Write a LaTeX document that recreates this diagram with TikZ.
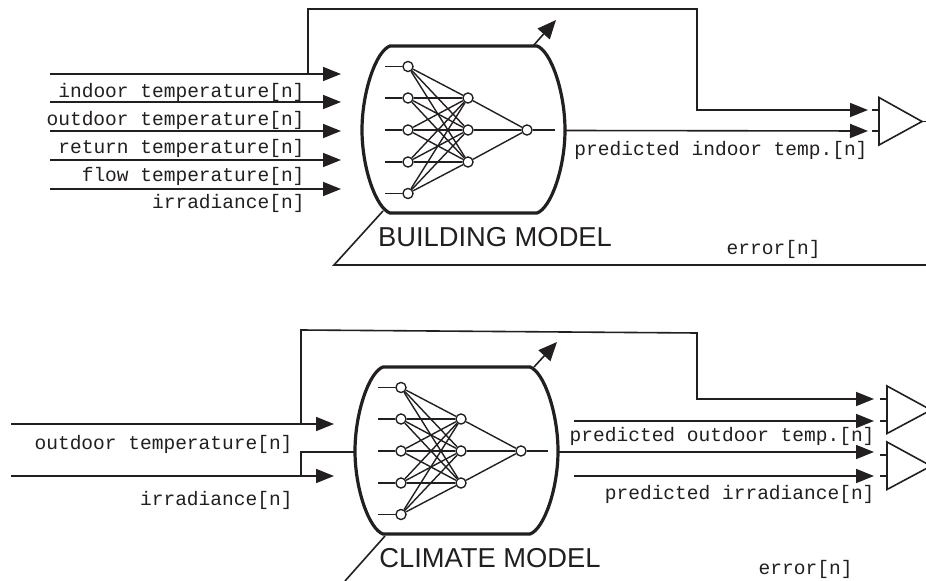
\documentclass[tikz,border=0pt]{standalone}
\usepackage{fontspec}
\setmainfont{Liberation Sans}
\setmonofont{Liberation Mono}
\usetikzlibrary{arrows.meta}
\definecolor{inkdark}{HTML}{231F20}
\tikzset{every picture/.style={line width=0.75pt}}
\tikzset{
  neuron/.style={circle,draw=inkdark,fill=white,line width=1pt,minimum size=7.6pt,inner sep=0pt},
  synapse/.style={draw=inkdark,line width=1.05pt},
  modelbody/.style={draw=inkdark,line width=2.4pt},
  signal/.style={draw=inkdark,line width=1.2pt},
  sigarrow/.style={signal,-{Triangle[length=13.5pt,width=10.5pt]}},
  adjarrow/.style={signal,-{Triangle[length=14pt,width=12pt]}},
  siglabel/.style={text=inkdark,font=\fontsize{14.65}{16}\selectfont\ttfamily,anchor=base east,inner sep=0pt},
  modellabel/.style={text=inkdark,font=\fontsize{20.5}{22}\selectfont,anchor=base,inner sep=0pt}
}

\begin{document}
\begin{tikzpicture}[x=0.75pt,y=0.75pt,yscale=-1,xscale=1]
\clip (0,0) rectangle (926,581);
\path[fill=white] (0,0) rectangle (926,581);
%Shape: Building model body
\coordinate (bmtl) at (390,46);
\coordinate (bmtr) at (537,46);
\coordinate (bmbr) at (537,213);
\coordinate (bmbl) at (390,213);
\draw [modelbody] (bmtl) -- (bmtr) .. controls (551,51) and (565,92) .. (565,130) .. controls (565,168) and (551,208) .. (bmbr) -- (bmbl) .. controls (376,208) and (362,168) .. (362,130) .. controls (362,92) and (376,51) .. (bmtl) -- cycle ;
%Building model network
\node (bi1) [neuron] at (408,66.5) {};
\node (bi2) [neuron] at (408,98) {};
\node (bi3) [neuron] at (408,130) {};
\node (bi4) [neuron] at (408,162) {};
\node (bi5) [neuron] at (408,193.5) {};
\node (bh1) [neuron] at (468,98) {};
\node (bh2) [neuron] at (468,130) {};
\node (bh3) [neuron] at (468,162) {};
\node (bo) [neuron] at (527,130) {};
\coordinate (bout) at (555,130);
\foreach \i/\y in {1/66.5,2/98,3/130,4/162,5/193.5} {
  \coordinate (bs\i) at (385,\y);
  \draw [synapse] (bs\i) -- (bi\i);
  \foreach \j in {1,2,3} \draw [synapse] (bi\i) -- (bh\j);
}
\foreach \j in {1,2,3} \draw [synapse] (bh\j) -- (bo);
\draw [synapse] (bo) -- (bout);
%Building model inputs
\foreach \i/\y in {1/74,2/102,3/131,4/160,5/189} {
  \coordinate (bl\i) at (50,\y);
  \coordinate (bt\i) at (341,\y);
  \draw [sigarrow] (bl\i) -- (bt\i);
}
%Building model comparator
\coordinate (bcmpt) at (879,97.5);
\coordinate (bcmpb) at (879,145);
\coordinate (bcmpa) at (922,121.5);
\draw [signal] (bcmpt) -- (bcmpa) -- (bcmpb) -- cycle ;
\coordinate (bfb) at (308,74);
\coordinate (btk1) at (868,110);
\coordinate (btk2) at (868,131);
\coordinate (bst1) at (872,110);
\coordinate (bst2) at (872,131);
\coordinate (bbody) at (565,130.5);
\draw [sigarrow] (bfb) -- (308,9) -- (697,9) -- (697,110) -- (btk1);
\draw [sigarrow] (bbody) -- (btk2);
\draw [signal] (bst1) -- (bcmpt |- bst1);
\draw [signal] (bst2) -- (bcmpt |- bst2);
\draw [signal] (bcmpa) -- (926,121.5);
%Building model adjust and error
\coordinate (bat) at (556,20);
\coordinate (bas) at (533,46);
\draw [adjarrow] (bas) -- (bat);
\coordinate (bes) at (383,211);
\coordinate (bee) at (926,265);
\draw [signal] (bes) -- (334,265) -- (bee);
%Building model text
\node (lbi1) [siglabel] at (305,98) {indoor temperature[n]};
\node (lbi2) [siglabel] at (305,126) {outdoor temperature[n]};
\node (lbi3) [siglabel] at (305,154) {return temperature[n]};
\node (lbi4) [siglabel] at (305,182) {flow temperature[n]};
\node (lbi5) [siglabel] at (305,209) {irradiance[n]};
\node (lbp) [siglabel] at (868,156) {predicted indoor temp.[n]};
\node (lbe) [siglabel] at (821,255) {error[n]};
\node (lbm) [modellabel] at (495,247) {BUILDING MODEL};
%Shape: Climate model body
\coordinate (cmtl) at (383,367);
\coordinate (cmtr) at (530,367);
\coordinate (cmbr) at (530,534);
\coordinate (cmbl) at (383,534);
\draw [modelbody] (cmtl) -- (cmtr) .. controls (544,372) and (558,413) .. (558,451) .. controls (558,489) and (544,529) .. (cmbr) -- (cmbl) .. controls (369,529) and (355,489) .. (355,451) .. controls (355,413) and (369,372) .. (cmtl) -- cycle ;
%Climate model network
\node (ci1) [neuron] at (401,387.5) {};
\node (ci2) [neuron] at (401,419) {};
\node (ci3) [neuron] at (401,451) {};
\node (ci4) [neuron] at (401,483) {};
\node (ci5) [neuron] at (401,514.5) {};
\node (ch1) [neuron] at (461,419) {};
\node (ch2) [neuron] at (461,451) {};
\node (ch3) [neuron] at (461,483) {};
\node (co) [neuron] at (521,451) {};
\coordinate (cout) at (548,451);
\foreach \i/\y in {1/387.5,2/419,3/451,4/483,5/514.5} {
  \coordinate (cs\i) at (378,\y);
  \draw [synapse] (cs\i) -- (ci\i);
  \foreach \j in {1,2,3} \draw [synapse] (ci\i) -- (ch\j);
}
\foreach \j in {1,2,3} \draw [synapse] (ch\j) -- (co);
\draw [synapse] (co) -- (cout);
%Climate model inputs
\coordinate (cl1) at (11,424);
\coordinate (ct1) at (334,424);
\coordinate (cl2) at (11,476);
\coordinate (ct2) at (334,476);
\draw [sigarrow] (cl1) -- (ct1);
\draw [sigarrow] (cl2) -- (ct2);
\coordinate (cfb) at (301,424);
\coordinate (cjn) at (301,476);
\coordinate (cbl) at (355,452);
\draw [signal] (cjn) -- (301,452) -- (cbl);
%Climate model comparators
\coordinate (ccmpt1) at (887,386);
\coordinate (ccmpb1) at (887,433.5);
\coordinate (ccmpa1) at (931,410);
\coordinate (ccmpt2) at (887,442);
\coordinate (ccmpb2) at (887,489.5);
\coordinate (ccmpa2) at (931,466);
\draw [signal] (ccmpt1) -- (ccmpa1) -- (ccmpb1) -- cycle ;
\draw [signal] (ccmpt2) -- (ccmpa2) -- (ccmpb2) -- cycle ;
\coordinate (ctk1) at (874,399);
\coordinate (ctk2) at (874,421);
\coordinate (ctk3) at (874,452);
\coordinate (ctk4) at (874,476);
\coordinate (cst1) at (880,399);
\coordinate (cst2) at (880,421);
\coordinate (cst3) at (880,455);
\coordinate (cst4) at (880,476);
\coordinate (csr1) at (574,421);
\coordinate (cbody) at (558,452);
\coordinate (csr2) at (574,476);
\draw [sigarrow] (cfb) -- (301,330) -- (697,333) -- (697,399) -- (ctk1);
\draw [sigarrow] (csr1) -- (ctk2);
\draw [sigarrow] (cbody) -- (ctk3);
\draw [sigarrow] (csr2) -- (ctk4);
\draw [signal] (cst1) -- (ccmpt1 |- cst1);
\draw [signal] (cst2) -- (ccmpt1 |- cst2);
\draw [signal] (cst3) -- (ccmpt2 |- cst3);
\draw [signal] (cst4) -- (ccmpt2 |- cst4);
%Climate model adjust and error
\coordinate (cat) at (557,342);
\coordinate (cas) at (534,367);
\draw [adjarrow] (cas) -- (cat);
\coordinate (ces) at (385,536);
\coordinate (cee) at (345,581);
\draw [signal] (ces) -- (cee);
%Climate model text
\node (lci1) [siglabel] at (293,450) {outdoor temperature[n]};
\node (lci2) [siglabel] at (293,505) {irradiance[n]};
\node (lcp1) [siglabel] at (875,441) {predicted outdoor temp.[n]};
\node (lcp2) [siglabel] at (875,499) {predicted irradiance[n]};
\node (lce) [siglabel] at (853,574) {error[n]};
\node (lcm) [modellabel] at (490,567) {CLIMATE MODEL};
\end{tikzpicture}
\end{document}
